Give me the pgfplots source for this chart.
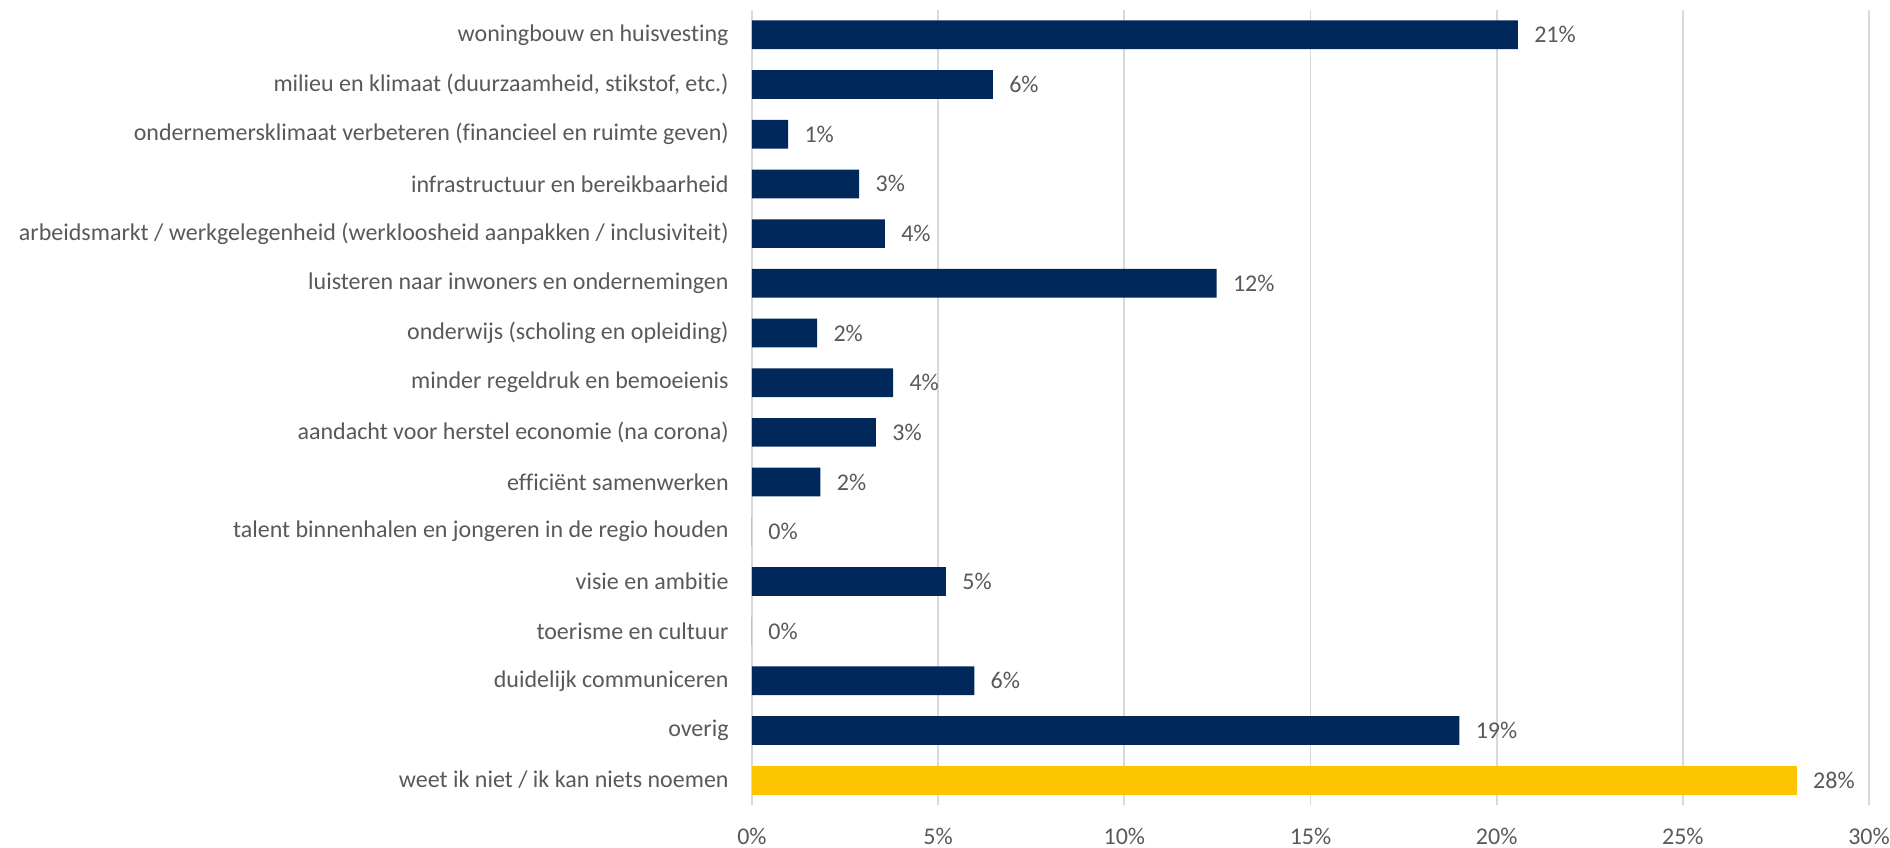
\documentclass[border=0pt]{standalone}
\usepackage{fontspec}
\setmainfont{Carlito}[Ligatures={NoCommon}]
\usepackage{pgfplots}
\pgfplotsset{compat=1.18}
\definecolor{navy}{RGB}{0,40,90}
\definecolor{geel}{RGB}{252,197,0}
\definecolor{raster}{RGB}{217,217,217}
\definecolor{tekst}{RGB}{89,89,89}

\begin{document}
\fontsize{12pt}{14pt}\selectfont
\begin{tikzpicture}
\begin{axis}[
  at={(0,0)}, anchor=south west,
  scale only axis,
  width=558.5pt, height=397.5pt,
  xmin=0, xmax=30,
  ymin=-0.5, ymax=15.5,
  y dir=reverse,
  xbar, bar shift=0pt, bar width=14.35pt,
  xtick={0,5,...,30},
  xticklabel={\pgfmathprintnumber{\tick}\%},
  ytick={0,...,15},
  yticklabels={
    woningbouw en huisvesting,
    {milieu en klimaat (duurzaamheid, stikstof, etc.)},
    ondernemersklimaat verbeteren (financieel en ruimte geven),
    infrastructuur en bereikbaarheid,
    arbeidsmarkt / werkgelegenheid (werkloosheid aanpakken / inclusiviteit),
    luisteren naar inwoners en ondernemingen,
    onderwijs (scholing en opleiding),
    minder regeldruk en bemoeienis,
    aandacht voor herstel economie (na corona),
    efficiënt samenwerken,
    talent binnenhalen en jongeren in de regio houden,
    visie en ambitie,
    toerisme en cultuur,
    duidelijk communiceren,
    overig,
    weet ik niet / ik kan niets noemen},
  major tick length=0pt,
  axis line style={draw=none},
  xmajorgrids, grid style={raster, line width=0.9pt},
  /pgf/number format/assume math mode=true,
  tick label style={font=\fontsize{12pt}{14pt}\selectfont, text=tekst, inner sep=0pt},
  yticklabel style={anchor=east, xshift=-11.5pt},
  xticklabel style={anchor=north, yshift=-11.5pt},
  nodes near coords={\pgfmathprintnumber[fixed, precision=0]{\pgfplotspointmeta}\%},
  nodes near coords style={font=\fontsize{12pt}{14pt}\selectfont, text=tekst, anchor=west, inner sep=0pt, xshift=8pt},
  point meta=x,
  clip=false,
]
\addplot[fill=navy, draw=none] coordinates {
  (20.57,0) (6.47,1) (0.97,2) (2.88,3) (3.57,4) (12.48,5) (1.75,6) (3.79,7)
  (3.33,8) (1.84,9) (0,10) (5.21,11) (0,12) (5.97,13) (19.0,14)
};
\addplot[fill=geel, draw=none] coordinates {(28.06,15)};
\end{axis}
\path[use as bounding box] (-376pt,-21pt) rectangle (569pt,402.5pt);
\end{tikzpicture}
\end{document}
